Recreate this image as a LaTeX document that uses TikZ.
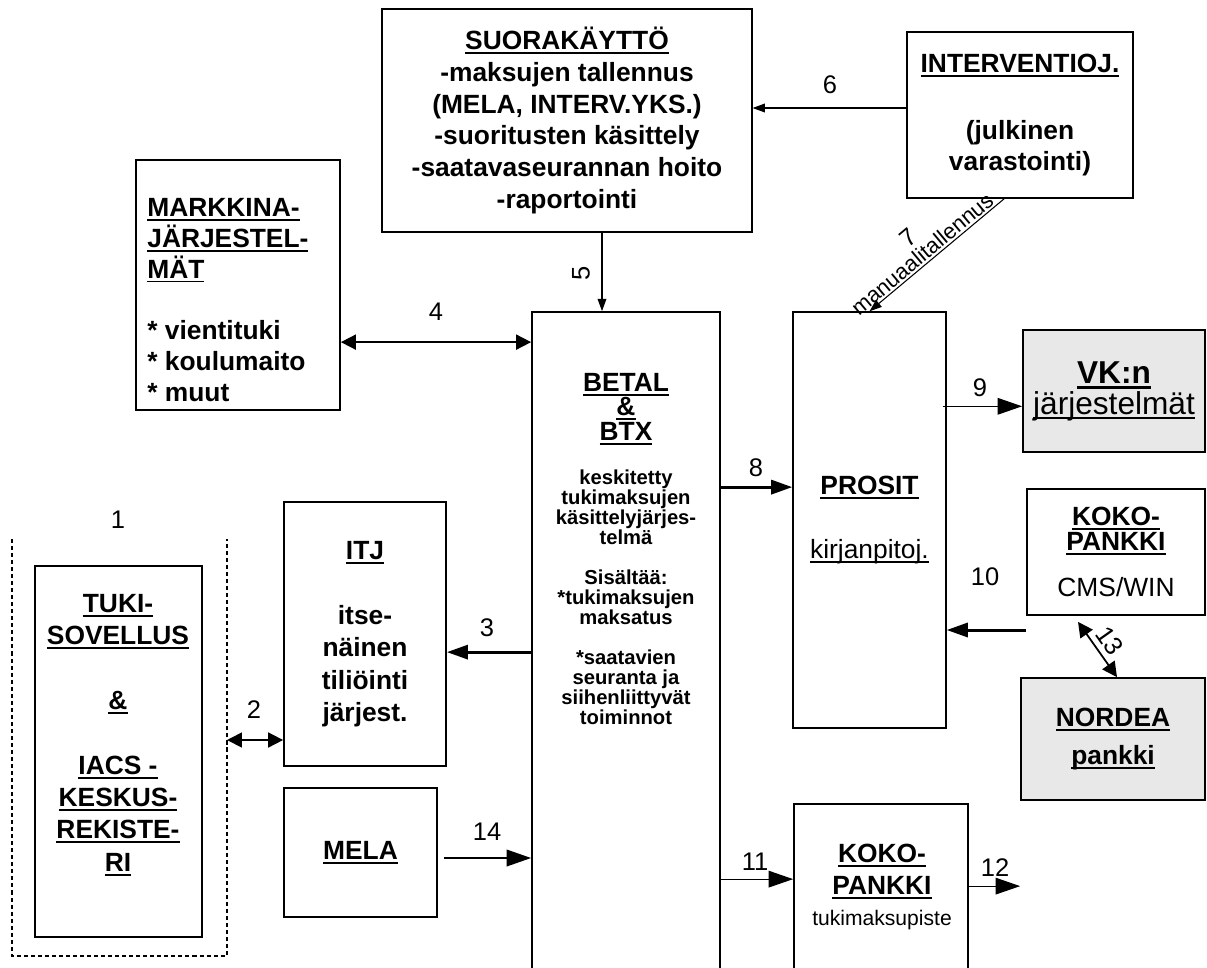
\documentclass[tikz,border=0pt]{standalone}
\usepackage{fontspec}
\setmainfont{Liberation Sans}
\usepackage{tikz}
\usetikzlibrary{arrows.meta,calc}
\newsavebox\ulbox
\newcommand{\uln}[1]{\sbox\ulbox{#1}\rlap{\rule[-0.17em]{\wd\ulbox}{0.075em}}\usebox\ulbox}
\tikzset{
    box/.style={draw, line width=1pt, inner sep=0pt, align=center, font=\bfseries\fontsize{15}{18}\selectfont},
    shaded/.style={box, fill=black!9},
    txt/.style={inner sep=0pt, align=center, font=\bfseries\fontsize{15}{18}\selectfont},
    num/.style={inner sep=0pt, font=\fontsize{14.5}{16}\selectfont},
    thinarr/.style={line width=0.6pt, -{Triangle[length=7pt,width=5pt]}},
    bigarr/.style={line width=0.7pt, -{Triangle[length=14pt,width=9.5pt]}},
    fatarr/.style={line width=1.7pt, -{Triangle[length=12pt,width=8pt]}},
    dblarr/.style={line width=1pt, {Triangle[length=8.5pt,width=8.5pt]}-{Triangle[length=8.5pt,width=8.5pt]}}}
\begin{document}
\begin{tikzpicture}
    \useasboundingbox (0,0) rectangle (24.14,-19.34);
    \clip (0,0) rectangle (24.14,-19.34);

    % boxes
    \node (suora)[box, line width=0.7pt, minimum width=7.40cm, minimum height=4.46cm] at (11.34,-2.41) {\uln{SUORAKÄYTTÖ}\\-maksujen tallennus\\(MELA, INTERV.YKS.)\\-suoritusten käsittely\\-saatavaseurannan hoito\\-raportointi};
    \node (interv)[box, minimum width=4.52cm, minimum height=3.32cm] at (20.40,-2.30) {\uln{INTERVENTIOJ.}\\[20pt](julkinen\\varastointi)};
    \node (markkina)[box, minimum width=4.08cm, minimum height=5.00cm] at (4.76,-5.70) {};
    \node (markkinaT)[txt, align=left, font=\bfseries\fontsize{15}{17.6}\selectfont, anchor=west] at (2.94,-6.00) {\uln{MARKKINA-}\\\uln{JÄRJESTEL-}\\\uln{MÄT}\\[17.6pt]* vientituki\\* koulumaito\\* muut};
    \node (betal)[box, minimum width=3.76cm, minimum height=13.76cm] at (12.52,-13.12) {};
    \node (betalT)[txt, font=\bfseries\fontsize{15}{14}\selectfont] at (12.52,-8.18) {\uln{BETAL}\\\uln{\&}\\\uln{BTX}};
    \node (betalB)[txt, font=\bfseries\fontsize{11.5}{11.4}\selectfont] at (12.52,-11.94) {keskitetty\\tukimaksujen\\käsittelyjärjes-\\telmä\\[11.4pt]Sisältää:\\*tukimaksujen\\maksatus\\[11.4pt]*saatavien\\seuranta ja\\siihenliittyvät\\toiminnot};
    \node (prosit)[box, line width=0.8pt, minimum width=3.06cm, minimum height=8.32cm] at (17.39,-10.40) {\uln{PROSIT}\\[18pt]{\mdseries\uln{kirjanpitoj.}}};
    \node (vk)[shaded, minimum width=3.64cm, minimum height=2.44cm, font=\bfseries\fontsize{18}{17.6}\selectfont] at (22.28,-7.82) {\uln{VK:n}\\{\mdseries\uln{järjestelmät}}};
    \node (koko1)[box, minimum width=3.56cm, minimum height=2.52cm, font=\bfseries\fontsize{15}{14}\selectfont] at (22.32,-11.04) {\uln{KOKO-}\\\uln{PANKKI}\\[12pt]{\mdseries CMS/WIN}};
    \node (nordea)[shaded, minimum width=3.68cm, minimum height=2.44cm] at (22.26,-14.78) {\uln{NORDEA}\\[3.5pt]\uln{pankki}};
    \node (koko2)[box, minimum width=3.48cm, minimum height=3.92cm] at (17.62,-18.04) {};
    \node (koko2T)[txt] at (17.64,-17.74) {\uln{KOKO-}\\\uln{PANKKI}\\{\mdseries\fontsize{12}{14}\selectfont tukimaksupiste}};
    \node (itj)[box, minimum width=3.24cm, minimum height=5.28cm, font=\bfseries\fontsize{15}{18.5}\selectfont] at (7.30,-12.68) {\uln{ITJ}\\[18.5pt]itse-\\näinen\\tiliöinti\\järjest.};
    \node (mela)[box, minimum width=3.06cm, minimum height=2.58cm] at (7.21,-17.05) {\uln{MELA}};
    \node (tuki)[box, minimum width=3.34cm, minimum height=7.42cm] at (2.37,-15.03) {};
    \node (tukiT)[txt, font=\bfseries\fontsize{15}{18.4}\selectfont] at (2.36,-14.70) {\uln{TUKI-}\\\uln{SOVELLUS}\\[18.4pt]\uln{\&}\\[18.4pt]\uln{IACS -}\\\uln{KESKUS-}\\\uln{REKISTE-}\\\uln{RI}};

    % dashed frame round TUKI
    \draw[dashed, dash pattern=on 2.3pt off 1.7pt, line width=1pt] (0.24,-10.78) -- (0.24,-19.12) -- (4.54,-19.12) -- (4.54,-10.78);
    \coordinate (dashR) at (4.54,-14.80);

    % connectors
    \draw[thinarr] ($(interv.west)+(0,0.14)$) coordinate (a6) -- (a6 -| suora.east);
    \draw[thinarr] ($(suora.south)+(0.70,0)$) coordinate (a5) -- (a5 |- betal.north);
    \draw[dblarr] ($(betal.north west)+(0,-0.62)$) coordinate (a4) -- (a4 -| markkina.east);
    \draw[thinarr] ($(interv.south)+(-0.32,0)$) -- node[pos=0.56, sloped, above, align=center, inner sep=1pt]{{\fontsize{14}{16}\selectfont 7}\\{\fontsize{12.5}{14}\selectfont manuaalitallennus}} (prosit.north);
    \draw[fatarr] ($(betal.north east)+(0,-3.52)$) coordinate (a8) -- (a8 -| prosit.west);
    \draw[bigarr] ($(prosit.north east)+(-0.08,-1.90)$) coordinate (a9) -- (a9 -| vk.west);
    \draw[fatarr] ($(koko1.west)+(0,-1.56)$) coordinate (a10) -- (a10 -| prosit.east);
    \draw[dblarr] ($(koko1.south)+(-0.76,-0.12)$) -- node[sloped, above, num, inner sep=3pt]{13} ($(nordea.north)+(0.08,0)$);
    \draw[bigarr] ($(betal.north east)+(0,-11.36)$) coordinate (a11) -- (a11 -| koko2.west);
    \draw[bigarr] ($(koko2.north east)+(0,-1.66)$) coordinate (a12) -- (a12 -| nordea.west);
    \draw[fatarr] ($(betal.north west)+(0,-6.82)$) coordinate (a3) -- (a3 -| itj.east);
    \draw[bigarr, line width=1pt] ($(mela.east)+(0.12,-0.11)$) coordinate (a14) -- (a14 -| betal.west);
    \draw[dblarr] (dashR) -- (dashR -| itj.west);

    % numbers
    \node (n1)[num] at (2.36,-10.40) {1};
    \node (n2)[num] at (5.08,-14.20) {2};
    \node (n3)[num] at (9.74,-12.56) {3};
    \node (n4)[num] at (8.72,-6.24) {4};
    \node (n5)[num, rotate=90] at (11.62,-5.46) {5};
    \node (n6)[num] at (16.60,-1.70) {6};
    \node (n8)[num] at (15.12,-9.36) {8};
    \node (n9)[num] at (19.60,-7.76) {9};
    \node (n10)[num] at (19.70,-11.54) {10};
    \node (n11)[num] at (15.10,-17.24) {11};
    \node (n12)[num] at (19.90,-17.36) {12};
    \node (n14)[num] at (9.74,-16.64) {14};
\end{tikzpicture}
\end{document}
